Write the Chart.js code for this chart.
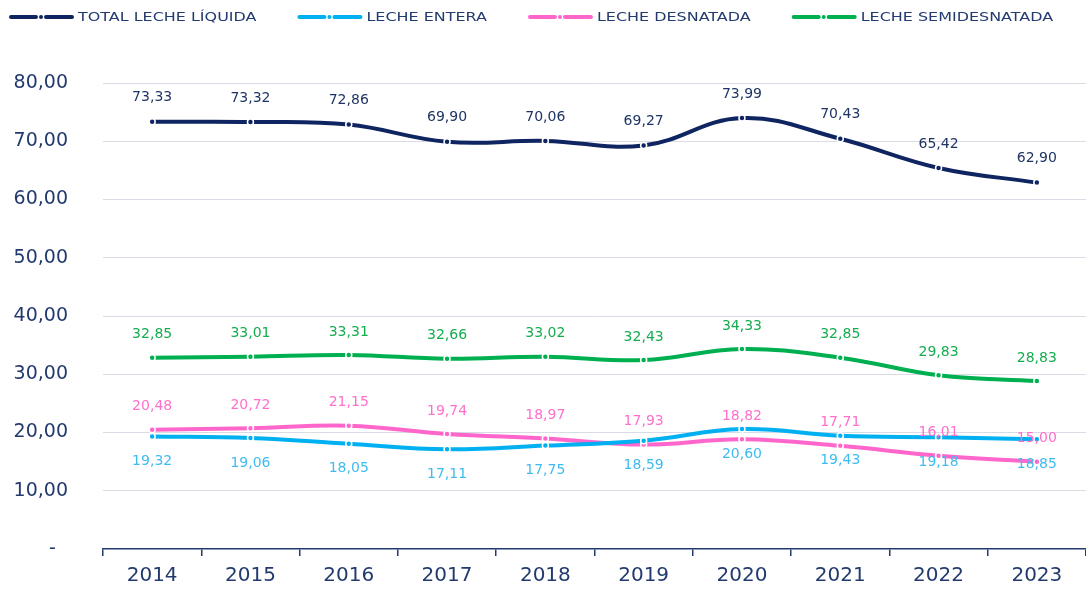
<!DOCTYPE html>
<html>
<head>
<meta charset="utf-8">
<script src="https://cdn.jsdelivr.net/npm/chart.js@4/dist/chart.umd.min.js"></script>
<style>
  html, body { margin: 0; padding: 0; background: #fff; }
  #grafico { display: block; }
</style>
</head>
<body>
<canvas id="grafico" width="1086" height="590"></canvas>
<script>
// Datos
const anios = ["2014", "2015", "2016", "2017", "2018", "2019", "2020", "2021", "2022", "2023"];
const totalLiquida = [73.33, 73.32, 72.86, 69.90, 70.06, 69.27, 73.99, 70.43, 65.42, 62.90];
const entera = [19.32, 19.06, 18.05, 17.11, 17.75, 18.59, 20.60, 19.43, 19.18, 18.85];
const desnatada = [20.48, 20.72, 21.15, 19.74, 18.97, 17.93, 18.82, 17.71, 16.01, 15.00];
const semidesnatada = [32.85, 33.01, 33.31, 32.66, 33.02, 32.43, 34.33, 32.85, 29.83, 28.83];
const ticksY = [0, 10, 20, 30, 40, 50, 60, 70, 80];

const azulTexto = "#223a6e";
const fmt = (v) => v.toFixed(2).replace(".", ",");

const serie = (label, data, color, colorEtiqueta, desplaz) => ({
  label, data,
  borderColor: color,
  backgroundColor: color,
  borderWidth: 4,
  tension: 0.4,
  pointRadius: 3,
  pointBackgroundColor: color,
  pointBorderColor: "#ffffff",
  pointBorderWidth: 1.5,
  colorEtiqueta, desplaz
});

// Etiquetas de datos
const etiquetas = {
  id: "etiquetas",
  afterDatasetsDraw(chart) {
    const ctx = chart.ctx;
    ctx.save();
    ctx.font = "14px 'DejaVu Sans'";
    ctx.textAlign = "center";
    ctx.textBaseline = "middle";
    chart.data.datasets.forEach((ds, i) => {
      chart.getDatasetMeta(i).data.forEach((pt, j) => {
        ctx.fillStyle = ds.colorEtiqueta;
        ctx.fillText(fmt(ds.data[j]), pt.x, pt.y + ds.desplaz);
      });
    });
    ctx.restore();
  }
};

// Leyenda: linea - punto - linea, texto ensanchado
const leyenda = {
  id: "leyenda",
  afterDraw(chart) {
    const ctx = chart.ctx;
    const y = 17;
    const ancho = 1.33;
    let x = 10;
    ctx.save();
    ctx.font = "12px 'DejaVu Sans'";
    ctx.textBaseline = "middle";
    chart.data.datasets.forEach((ds) => {
      ctx.strokeStyle = ds.borderColor;
      ctx.lineWidth = 4;
      ctx.lineCap = "round";
      ctx.beginPath();
      ctx.moveTo(x + 1, y);
      ctx.lineTo(x + 26, y);
      ctx.moveTo(x + 36, y);
      ctx.lineTo(x + 62, y);
      ctx.stroke();
      ctx.fillStyle = ds.borderColor;
      ctx.beginPath();
      ctx.arc(x + 31, y, 2, 0, Math.PI * 2);
      ctx.fill();
      const w = ctx.measureText(ds.label).width * ancho;
      ctx.save();
      ctx.translate(x + 68, y + 1);
      ctx.scale(ancho, 1);
      ctx.fillStyle = azulTexto;
      ctx.fillText(ds.label, 0, 0);
      ctx.restore();
      x += 68 + w + 42;
    });
    ctx.restore();
  }
};

new Chart(document.getElementById("grafico"), {
  type: "line",
  data: {
    labels: anios,
    datasets: [
      serie("TOTAL LECHE LÍQUIDA", totalLiquida, "#0f2561", "#1f3566", -24),
      serie("LECHE ENTERA", entera, "#00b0f0", "#3fbcef", 25),
      serie("LECHE DESNATADA", desnatada, "#ff66cc", "#ff6fcc", -23),
      serie("LECHE SEMIDESNATADA", semidesnatada, "#00b050", "#14ad4f", -23)
    ]
  },
  options: {
    responsive: false,
    animation: false,
    layout: { autoPadding: false, padding: { top: 83, right: 0, left: 0, bottom: 0 } },
    plugins: { legend: { display: false }, tooltip: { enabled: false } },
    scales: {
      x: {
        offset: true,
        grid: { offset: true, drawOnChartArea: false, drawTicks: true, tickLength: 7, color: azulTexto, lineWidth: 1.5 },
        border: { color: azulTexto, width: 1.5 },
        ticks: { color: azulTexto, font: { family: "DejaVu Sans", size: 20 }, padding: 8 },
        afterFit: (s) => { s.height = 41; }
      },
      y: {
        min: ticksY[0],
        max: ticksY[ticksY.length - 1],
        afterBuildTicks: (s) => { s.ticks = ticksY.map((v) => ({ value: v })); },
        ticks: {
          padding: 35,
          color: azulTexto,
          font: { family: "DejaVu Sans", size: 19 },
          callback: (v) => (v === 0 ? "-  " : fmt(v))
        },
        grid: {
          color: "#d9dce4",
          drawTicks: false,
          lineWidth: (c) => (c.tick && c.tick.value === 0 ? 0 : 1)
        },
        border: { display: false },
        afterFit: (s) => { s.width = 103; s.paddingTop = 0; s.paddingBottom = 0; }
      }
    }
  },
  plugins: [etiquetas, leyenda]
});
</script>
</body>
</html>
